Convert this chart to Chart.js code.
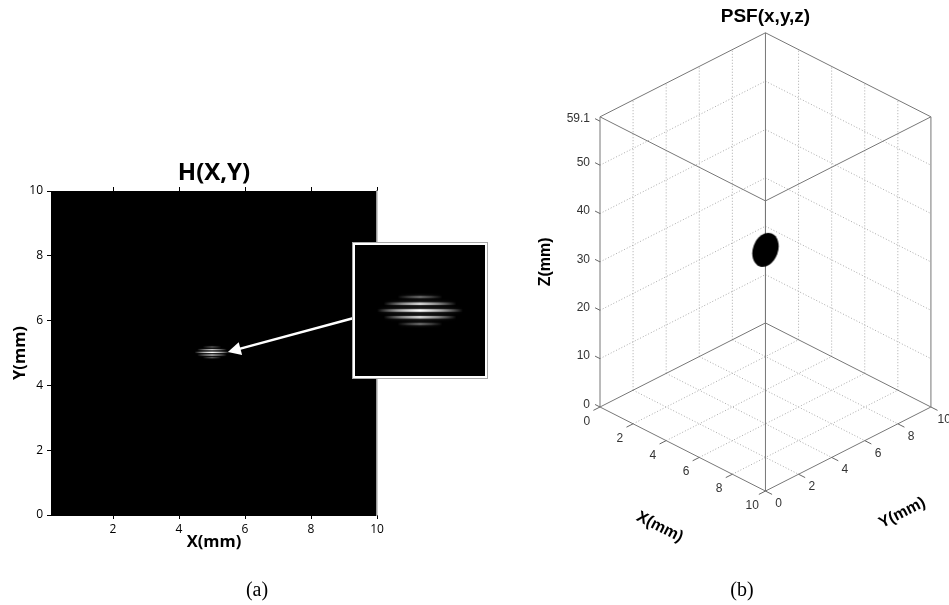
<!DOCTYPE html>
<html>
<head>
<meta charset="utf-8">
<script src="https://cdn.jsdelivr.net/npm/chart.js@4.4.0/dist/chart.umd.min.js"></script>
<style>
  html, body { margin: 0; padding: 0; background: #fff; }
  body { position: relative; width: 949px; height: 605px; overflow: hidden; }
  canvas { position: absolute; }
  #heatmap { left: 0; top: 0; }
  #inset { left: 352px; top: 242px; }
  #psf { left: 480px; top: 0; }
</style>
</head>
<body>
<canvas id="heatmap" width="440" height="605"></canvas>
<canvas id="inset" width="136" height="137"></canvas>
<canvas id="psf" width="469" height="605"></canvas>
<script>
// (a) hologram H(X,Y), values in mm
var hxTicks = [2, 4, 6, 8, 10];
var hyTicks = [0, 2, 4, 6, 8, 10];
var hRangeX = [0.12, 10];
var hRangeY = [0, 10];
var fringeCenter = [5.0, 5.02];
var fringeOffsets = [-0.166, -0.083, 0, 0.083, 0.166];
var fringeLevels = [0.3, 0.75, 1.0, 0.75, 0.3];
var fringeHalfLen = [0.28, 0.45, 0.53, 0.45, 0.28];
var insetHalfSpan = 0.84;
var arrowFrom = [9.3, 6.08];
var arrowTo = [5.48, 5.03];

// (b) PSF(x,y,z), values in mm
var xyTicks = [0, 2, 4, 6, 8, 10];
var zTicks = [0, 10, 20, 30, 40, 50, 59.1];
var zLimit = 60;
var gridXY = [2, 4, 6, 8];
var gridZ = [10, 20, 30, 40, 50];
var psfPoint = [5, 5, 32.5];

var LEFT_FONT = "'Open Sans', sans-serif";
var RIGHT_FONT = "'Liberation Sans', Arial, sans-serif";

// white horizontal fringes, fading out towards both ends
function fringeDatasets(width) {
  return fringeOffsets.map(function (off, i) {
    var y = fringeCenter[1] + off;
    var half = fringeHalfLen[i];
    var level = fringeLevels[i];
    return {
      showLine: true,
      data: [{ x: fringeCenter[0] - half, y: y }, { x: fringeCenter[0] + half, y: y }],
      borderWidth: width,
      pointRadius: 0,
      borderColor: function (ctx) {
        var chart = ctx.chart;
        if (!chart.chartArea) {
          return 'rgba(255,255,255,' + level + ')';
        }
        var xs = chart.scales.x;
        var g = chart.ctx.createLinearGradient(
          xs.getPixelForValue(fringeCenter[0] - half), 0,
          xs.getPixelForValue(fringeCenter[0] + half), 0);
        g.addColorStop(0, 'rgba(255,255,255,0)');
        g.addColorStop(0.25, 'rgba(255,255,255,' + (level * 0.55) + ')');
        g.addColorStop(0.5, 'rgba(255,255,255,' + level + ')');
        g.addColorStop(0.75, 'rgba(255,255,255,' + (level * 0.55) + ')');
        g.addColorStop(1, 'rgba(255,255,255,0)');
        return g;
      }
    };
  });
}

// soft glow around the fringes
function fringeGlow(blur) {
  return {
    id: 'fringeGlow',
    beforeDatasetsDraw: function (chart) {
      chart.ctx.shadowColor = 'rgba(255,255,255,0.7)';
      chart.ctx.shadowBlur = blur;
    },
    afterDatasetsDraw: function (chart) {
      chart.ctx.shadowColor = 'rgba(0,0,0,0)';
      chart.ctx.shadowBlur = 0;
    }
  };
}

function fixedTicks(values) {
  return function (scale) {
    scale.ticks = values.map(function (v) { return { value: v }; });
  };
}

var heatmapPaint = {
  id: 'heatmapPaint',
  beforeDraw: function (chart) {
    var a = chart.chartArea;
    chart.ctx.save();
    chart.ctx.fillStyle = '#000';
    chart.ctx.fillRect(a.left, a.top, a.right - a.left, a.bottom - a.top);
    chart.ctx.restore();
  },
  afterDraw: function (chart) {
    var ctx = chart.ctx;
    var a = chart.chartArea;
    var xs = chart.scales.x, ys = chart.scales.y;
    var x1 = xs.getPixelForValue(arrowFrom[0]), y1 = ys.getPixelForValue(arrowFrom[1]);
    var x2 = xs.getPixelForValue(arrowTo[0]), y2 = ys.getPixelForValue(arrowTo[1]);
    var ang = Math.atan2(y2 - y1, x2 - x1);
    var headLen = 13, headW = 6.5;
    ctx.save();
    ctx.strokeStyle = '#fff';
    ctx.fillStyle = '#fff';
    ctx.lineWidth = 2.5;
    ctx.beginPath();
    ctx.moveTo(x1, y1);
    ctx.lineTo(x2 - Math.cos(ang) * headLen * 0.7, y2 - Math.sin(ang) * headLen * 0.7);
    ctx.stroke();
    var bx = x2 - Math.cos(ang) * headLen, by = y2 - Math.sin(ang) * headLen;
    ctx.beginPath();
    ctx.moveTo(x2, y2);
    ctx.lineTo(bx + Math.sin(ang) * headW, by - Math.cos(ang) * headW);
    ctx.lineTo(bx - Math.sin(ang) * headW, by + Math.cos(ang) * headW);
    ctx.closePath();
    ctx.fill();

    ctx.fillStyle = '#000';
    ctx.textAlign = 'center';
    ctx.textBaseline = 'middle';
    ctx.font = 'bold 24px ' + LEFT_FONT;
    ctx.fillText('H(X,Y)', (a.left + a.right) / 2, a.top - 18);
    ctx.font = "20px 'Liberation Serif', 'Times New Roman', serif";
    ctx.fillText('(a)', 257, 591);
    ctx.restore();
  }
};

new Chart(document.getElementById('heatmap'), {
  type: 'scatter',
  data: { datasets: fringeDatasets(1.1) },
  options: {
    responsive: false,
    animation: false,
    events: [],
    layout: { autoPadding: false, padding: { top: 187, left: 0, right: 63, bottom: 45 } },
    plugins: { legend: { display: false }, tooltip: { enabled: false } },
    scales: {
      x: {
        type: 'linear', position: 'bottom', min: hRangeX[0], max: hRangeX[1],
        afterBuildTicks: fixedTicks(hxTicks),
        afterFit: function (s) { s.height = 45; },
        grid: { drawOnChartArea: false, tickLength: 4, tickColor: '#000' },
        border: { color: '#000' },
        ticks: { color: '#000', padding: 3, maxRotation: 0, font: { family: LEFT_FONT, size: 12 } },
        title: {
          display: true, text: 'X(mm)', color: '#000', padding: { top: 0, bottom: 8 },
          font: { family: LEFT_FONT, size: 16.5, weight: 'bold' }
        }
      },
      xTop: {
        type: 'linear', position: 'top', min: hRangeX[0], max: hRangeX[1],
        afterBuildTicks: fixedTicks(hxTicks),
        afterFit: function (s) { s.height = 4; },
        grid: { drawOnChartArea: false, tickLength: 4, tickColor: '#000' },
        border: { display: false },
        ticks: { display: false }
      },
      y: {
        type: 'linear', position: 'left', min: hRangeY[0], max: hRangeY[1],
        afterBuildTicks: fixedTicks(hyTicks),
        afterFit: function (s) { s.width = 51; },
        grid: { drawOnChartArea: false, tickLength: 4, tickColor: '#000' },
        border: { color: '#000' },
        ticks: { color: '#000', padding: 4, font: { family: LEFT_FONT, size: 12 } },
        title: {
          display: true, text: 'Y(mm)', color: '#000', padding: { top: 10, bottom: 0 },
          font: { family: LEFT_FONT, size: 16.5, weight: 'bold' }
        }
      },
      yRight: {
        type: 'linear', position: 'right', min: hRangeY[0], max: hRangeY[1],
        afterFit: function (s) { s.width = 0; },
        grid: { display: false },
        border: { color: '#9a9a9a', width: 1.5 },
        ticks: { display: false }
      }
    }
  },
  plugins: [heatmapPaint, fringeGlow(1.5)]
});

// zoomed inset of the fringe
var insetPaint = {
  id: 'insetPaint',
  beforeDraw: function (chart) {
    var ctx = chart.ctx;
    ctx.save();
    ctx.fillStyle = '#000';
    ctx.fillRect(0, 0, chart.width, chart.height);
    ctx.restore();
  },
  afterDraw: function (chart) {
    var ctx = chart.ctx;
    ctx.save();
    ctx.strokeStyle = '#a8a8a8';
    ctx.lineWidth = 1;
    ctx.strokeRect(0.5, 0.5, chart.width - 1, chart.height - 1);
    ctx.strokeStyle = '#fff';
    ctx.lineWidth = 2;
    ctx.strokeRect(2, 2, chart.width - 4, chart.height - 4);
    ctx.restore();
  }
};

new Chart(document.getElementById('inset'), {
  type: 'scatter',
  data: { datasets: fringeDatasets(2.6) },
  options: {
    responsive: false,
    animation: false,
    events: [],
    layout: { autoPadding: false, padding: 0 },
    plugins: { legend: { display: false }, tooltip: { enabled: false } },
    scales: {
      x: { display: false, min: fringeCenter[0] - insetHalfSpan, max: fringeCenter[0] + insetHalfSpan },
      y: { display: false, min: fringeCenter[1] - insetHalfSpan, max: fringeCenter[1] + insetHalfSpan }
    }
  },
  plugins: [insetPaint, fringeGlow(3)]
});

// (b) 3-D box, projected with a fixed camera (azimuth 45 deg, elevation ~30.5 deg)
var SIN_EL = 0.508;
var BOX_H = 12.4;
var VIEW_PX = 23.4;
var ORIGIN_PX = [120, 407];
var XY_MAX = xyTicks[xyTicks.length - 1];

function proj(x, y, z) {
  return {
    x: (x + y) / Math.SQRT2,
    y: z / zLimit * BOX_H + (y - x) / Math.SQRT2 * SIN_EL
  };
}

var psfSets = [];
function segment(a, b, color, dash, order) {
  psfSets.push({
    showLine: true,
    data: [proj(a[0], a[1], a[2]), proj(b[0], b[1], b[2])],
    borderColor: color,
    borderWidth: 1,
    borderDash: dash,
    pointRadius: 0,
    order: order
  });
}

var GRID_C = '#aaa', BOX_C = '#777', TICK_C = '#666';
gridXY.forEach(function (v) {
  segment([0, v, 0], [0, v, zLimit], GRID_C, [1, 2], 3);          // back wall x=0
  segment([v, XY_MAX, 0], [v, XY_MAX, zLimit], GRID_C, [1, 2], 3); // back wall y=max
  segment([v, 0, 0], [v, XY_MAX, 0], GRID_C, [1, 2], 3);          // floor
  segment([0, v, 0], [XY_MAX, v, 0], GRID_C, [1, 2], 3);
});
gridZ.forEach(function (z) {
  segment([0, 0, z], [0, XY_MAX, z], GRID_C, [1, 2], 3);
  segment([0, XY_MAX, z], [XY_MAX, XY_MAX, z], GRID_C, [1, 2], 3);
});

[0, zLimit].forEach(function (z) {
  segment([0, 0, z], [XY_MAX, 0, z], BOX_C, [], 2);
  segment([XY_MAX, 0, z], [XY_MAX, XY_MAX, z], BOX_C, [], 2);
  segment([0, 0, z], [0, XY_MAX, z], BOX_C, [], 2);
  segment([0, XY_MAX, z], [XY_MAX, XY_MAX, z], BOX_C, [], 2);
});
[[0, 0], [XY_MAX, 0], [0, XY_MAX], [XY_MAX, XY_MAX]].forEach(function (c) {
  segment([c[0], c[1], 0], [c[0], c[1], zLimit], BOX_C, [], 2);
});

xyTicks.forEach(function (v) {
  segment([v, 0, 0], [v, -0.4, 0], TICK_C, [], 1);
  segment([XY_MAX, v, 0], [XY_MAX + 0.4, v, 0], TICK_C, [], 1);
});
zTicks.forEach(function (z) {
  segment([0, 0, z], [-0.3, 0, z], TICK_C, [], 1);
});

var blob = document.createElement('canvas');
blob.width = 34;
blob.height = 40;
var bctx = blob.getContext('2d');
bctx.fillStyle = '#000';
bctx.beginPath();
bctx.ellipse(17, 20, 12.5, 17.5, 0.35, 0, 2 * Math.PI);
bctx.fill();

psfSets.push({
  data: [proj(psfPoint[0], psfPoint[1], psfPoint[2])],
  pointStyle: blob,
  pointRadius: 10,
  order: 0
});

var psfText = {
  id: 'psfText',
  afterDraw: function (chart) {
    var ctx = chart.ctx;
    var xs = chart.scales.x, ys = chart.scales.y;
    function px(x, y, z) {
      var p = proj(x, y, z);
      return { x: xs.getPixelForValue(p.x), y: ys.getPixelForValue(p.y) };
    }
    ctx.save();
    ctx.fillStyle = '#333';
    ctx.font = '12px ' + RIGHT_FONT;
    ctx.textBaseline = 'middle';

    ctx.textAlign = 'right';
    zTicks.forEach(function (z) {
      var p = px(-0.3, 0, z);
      ctx.fillText(String(z), p.x - 5, p.y);
    });
    ctx.textAlign = 'center';
    xyTicks.forEach(function (v) {
      var p = px(v, -0.8, 0);
      ctx.fillText(String(v), p.x, p.y + 8);
      var q = px(XY_MAX + 0.8, v, 0);
      ctx.fillText(String(v), q.x, q.y + 6);
    });

    ctx.fillStyle = '#000';
    ctx.font = 'bold 16px ' + RIGHT_FONT;
    var x0 = px(0, 0, 0), x1 = px(XY_MAX, 0, 0), y1 = px(XY_MAX, XY_MAX, 0);
    var xm = px(XY_MAX / 2, 0, 0);
    ctx.save();
    ctx.translate(xm.x - 23, xm.y + 78);
    ctx.rotate(Math.atan2(x1.y - x0.y, x1.x - x0.x));
    ctx.fillText('X(mm)', 0, 0);
    ctx.restore();
    var ym = px(XY_MAX, XY_MAX / 2, 0);
    ctx.save();
    ctx.translate(ym.x + 54, ym.y + 64);
    ctx.rotate(Math.atan2(y1.y - x1.y, y1.x - x1.x));
    ctx.fillText('Y(mm)', 0, 0);
    ctx.restore();
    var zm = px(0, 0, zLimit / 2);
    ctx.save();
    ctx.translate(zm.x - 54, zm.y);
    ctx.rotate(-Math.PI / 2);
    ctx.fillText('Z(mm)', 0, 0);
    ctx.restore();

    var apex = px(0, XY_MAX, zLimit);
    ctx.font = 'bold 19px ' + RIGHT_FONT;
    ctx.fillText('PSF(x,y,z)', apex.x, apex.y - 16);

    ctx.font = "20px 'Liberation Serif', 'Times New Roman', serif";
    ctx.fillText('(b)', 262, 591);
    ctx.restore();
  }
};

new Chart(document.getElementById('psf'), {
  type: 'scatter',
  data: { datasets: psfSets },
  options: {
    responsive: false,
    animation: false,
    events: [],
    layout: { autoPadding: false, padding: 0 },
    plugins: { legend: { display: false }, tooltip: { enabled: false } },
    scales: {
      x: { display: false, min: -ORIGIN_PX[0] / VIEW_PX, max: (469 - ORIGIN_PX[0]) / VIEW_PX },
      y: { display: false, min: -(605 - ORIGIN_PX[1]) / VIEW_PX, max: ORIGIN_PX[1] / VIEW_PX }
    }
  },
  plugins: [psfText]
});
</script>
</body>
</html>
